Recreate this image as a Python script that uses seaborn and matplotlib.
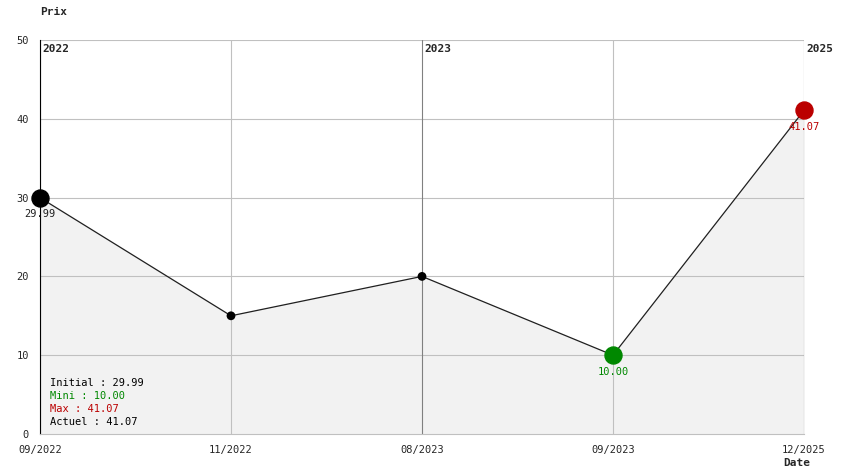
import matplotlib
matplotlib.use("Agg")
import matplotlib.pyplot as plt
import seaborn as sns
import pandas as pd

dates = ["09/2022", "11/2022", "08/2023", "09/2023", "12/2025"]
prices = [29.99, 15.0, 20.0, 10.0, 41.07]
years = {0: "2022", 2: "2023", 4: "2025"}

sns.set_style("white")
plt.rcParams['font.family'] = ['DejaVu Sans Mono']
df = pd.DataFrame({"x": range(len(dates)), "prix": prices})

fig = plt.figure(figsize=(8.44, 4.74), dpi=100)
ax = fig.add_axes([40/844, 40/474, 764/844, 394/474])
ax.fill_between(df["x"], df["prix"], 0, color="#f2f2f2", zorder=0)
for v in range(10, 51, 10):
    ax.axhline(v, color="#c0c0c0", lw=0.8, zorder=1)
for i in range(len(dates)):
    ax.axvline(i, color="#808080" if i in years else "#c0c0c0", lw=0.8, zorder=1)
for i, y in years.items():
    ax.text(i + 0.01, 48.8, y, fontsize=8, fontweight="bold", va="center", ha="left")

sns.lineplot(data=df, x="x", y="prix", color="#202020", lw=0.9, ax=ax, zorder=3)
sns.scatterplot(data=df, x="x", y="prix", color="black", s=40, ax=ax, zorder=4, edgecolor="none")
imin = prices.index(min(prices)); imax = prices.index(max(prices))
for i, c in [(0, "black"), (imin, "#008800"), (imax, "#bb0000")]:
    ax.scatter([i], [prices[i]], s=150, color=c, zorder=5, clip_on=False)
    ax.text(i, prices[i] - 1.5, f"{prices[i]:.2f}", fontsize=7.5, ha="center", va="top",
            color=c if c != "black" else "#202020")

info = [(f"Initial : {prices[0]:.2f}", "black"), (f"Mini : {min(prices):.2f}", "#008800"),
        (f"Max : {max(prices):.2f}", "#bb0000"), (f"Actuel : {prices[-1]:.2f}", "black")]
for k, (t, c) in enumerate(info):
    ax.text(0.05, 6.5 - k * 1.65, t, fontsize=7.5, color=c, va="center")

ax.set_xlim(0, len(dates) - 1)
ax.set_ylim(0, 50)
ax.set_xticks(range(len(dates)))
ax.set_xticklabels(dates, fontsize=7.5)
ax.set_yticks(range(0, 51, 10))
ax.tick_params(axis="y", labelsize=7.5, length=0, pad=8)
ax.tick_params(axis="x", length=0, pad=8)
ax.set_xlabel(""); ax.set_ylabel("")
for s in ax.spines.values():
    s.set_visible(False)
ax.spines["left"].set_visible(True); ax.spines["left"].set_color("black")
ax.spines["bottom"].set_visible(True); ax.spines["bottom"].set_color("#c0c0c0")
fig.text(40/844, 1 - 12/474, "Prix", fontsize=8, fontweight="bold", va="center")
fig.text(797/844, 1 - 463/474, "Date", fontsize=8, fontweight="bold", ha="center", va="center")
fig.savefig("out.png", dpi=100)
